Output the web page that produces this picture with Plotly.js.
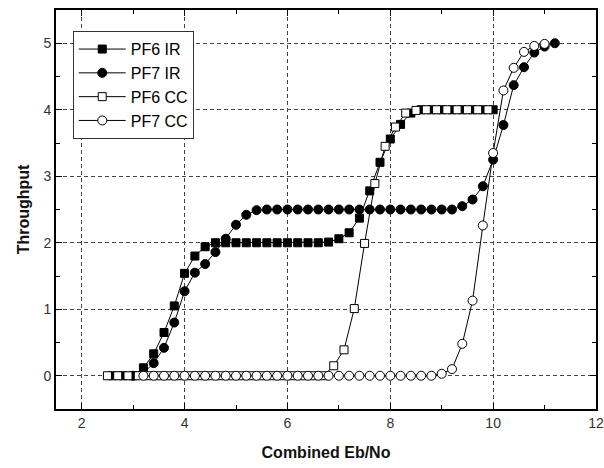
<!DOCTYPE html>
<html>
<head>
<meta charset="utf-8">
<script src="https://cdn.plot.ly/plotly-3.0.1.min.js"></script>
<style>html,body{margin:0;padding:0;background:#fff;}#chart{width:604px;height:468px;}</style>
</head>
<body>
<div id="chart"></div>
<script>
// Data
const seriesNames = ["PF6 IR", "PF7 IR", "PF6 CC", "PF7 CC"];

const pf6IrX = [2.6,2.8,3.0,3.2,3.4,3.6,3.8,4.0,4.2,4.4,4.6,4.8,5.0,5.2,5.4,5.6,5.8,6.0,6.2,6.4,6.6,6.8,7.0,7.2,7.4,7.6,7.8,8.0,8.2,8.4,8.6,8.8,9.0,9.2,9.4,9.6,9.8,10.0];
const pf6IrY = [0,0,0,0.12,0.33,0.65,1.05,1.54,1.80,1.94,2.0,2.0,2.0,2.0,2.0,2.0,2.0,2.0,2.0,2.0,2.0,2.01,2.06,2.15,2.37,2.78,3.21,3.56,3.78,3.95,4.0,4.0,4.0,4.0,4.0,4.0,4.0,4.0];

const pf7IrX = [3.0,3.2,3.4,3.6,3.8,4.0,4.2,4.4,4.6,4.8,5.0,5.2,5.4,5.6,5.8,6.0,6.2,6.4,6.6,6.8,7.0,7.2,7.4,7.6,7.8,8.0,8.2,8.4,8.6,8.8,9.0,9.2,9.4,9.6,9.8,10.0,10.2,10.4,10.6,10.8,11.0,11.2];
const pf7IrY = [0,0.04,0.19,0.42,0.80,1.27,1.55,1.68,1.86,2.06,2.27,2.42,2.49,2.5,2.5,2.5,2.5,2.5,2.5,2.5,2.5,2.5,2.5,2.5,2.5,2.5,2.5,2.5,2.5,2.5,2.5,2.5,2.55,2.65,2.85,3.25,3.77,4.37,4.64,4.86,4.95,5.0];

const pf6CcX = [2.5,2.7,2.9,3.1,3.3,3.5,3.7,3.9,4.1,4.3,4.5,4.7,4.9,5.1,5.3,5.5,5.7,5.9,6.1,6.3,6.5,6.7,6.9,7.1,7.3,7.5,7.7,7.9,8.1,8.3,8.5,8.7,8.9,9.1,9.3,9.5,9.7,9.9];
const pf6CcY = [0,0,0,0,0,0,0,0,0,0,0,0,0,0,0,0,0,0,0,0,0,0,0.15,0.39,1.01,1.99,2.89,3.45,3.74,3.95,3.99,4.0,4.0,4.0,4.0,4.0,4.0,4.0];

const pf7CcX = [3.2,3.4,3.6,3.8,4.0,4.2,4.4,4.6,4.8,5.0,5.2,5.4,5.6,5.8,6.0,6.2,6.4,6.6,6.8,7.0,7.2,7.4,7.6,7.8,8.0,8.2,8.4,8.6,8.8,9.0,9.2,9.4,9.6,9.8,10.0,10.2,10.4,10.6,10.8,11.0];
const pf7CcY = [0,0,0,0,0,0,0,0,0,0,0,0,0,0,0,0,0,0,0,0,0,0,0,0,0,0,0,0,0,0.03,0.10,0.48,1.13,2.26,3.35,4.29,4.63,4.87,4.96,4.99];

const xTickVals = [2,4,6,8,10,12];
const yTickVals = [0,1,2,3,4,5];

const lineStyle = {color: '#000', width: 1};
function trace(name, x, y, symbol, fill, size) {
  return {
    type: 'scatter', mode: 'lines+markers', name: name, x: x, y: y,
    line: lineStyle,
    marker: {symbol: symbol, size: size, color: fill, line: {color: '#000', width: 1}}
  };
}

const data = [
  trace(seriesNames[0], pf6IrX, pf6IrY, 'square', '#000', 8),
  trace(seriesNames[1], pf7IrX, pf7IrY, 'circle', '#000', 9),
  trace(seriesNames[2], pf6CcX, pf6CcY, 'square', '#fff', 8),
  trace(seriesNames[3], pf7CcX, pf7CcY, 'circle', '#fff', 9)
];

const fam = '"Liberation Sans", Arial, sans-serif';
const font = {family: fam, color: '#000'};
const axisCommon = {
  showline: true, linecolor: '#000', linewidth: 2, mirror: 'ticks',
  ticks: 'inside', ticklen: 6, tickwidth: 1, tickcolor: '#000',
  showgrid: true, gridcolor: '#444', gridwidth: 1, griddash: '4px,3px',
  zeroline: false, automargin: false, ticklabeloverflow: 'allow',
  tickfont: {family: fam, size: 14, color: '#333'}
};

const layout = {
  width: 604, height: 468,
  margin: {l: 56, r: 8, t: 10, b: 59},
  paper_bgcolor: '#fff', plot_bgcolor: '#fff',
  font: font,
  showlegend: true,
  legend: {
    x: 0.031, y: 0.947, xanchor: 'left', yanchor: 'top',
    bgcolor: '#fff', bordercolor: '#333', borderwidth: 1,
    font: {family: fam, size: 16, color: '#000'},
    itemwidth: 47,
    tracegroupgap: 0
  },
  xaxis: Object.assign({}, axisCommon, {
    range: [1.5, 12], tickvals: xTickVals,
    minor: {dtick: 1, ticks: 'inside', ticklen: 4, tickcolor: '#000', showgrid: false},
    title: {text: '<b>Combined Eb/No</b>', font: {family: fam, size: 16, color: '#111'}, standoff: 17}
  }),
  yaxis: Object.assign({}, axisCommon, {
    range: [-0.5, 5.5], tickvals: yTickVals,
    minor: {dtick: 0.5, ticks: 'inside', ticklen: 4, tickcolor: '#000', showgrid: false},
    title: {text: '<b>Throughput</b>', font: {family: fam, size: 16, color: '#111'}, standoff: 10}
  })
};

Plotly.newPlot('chart', data, layout, {displayModeBar: false, staticPlot: true});
</script>
</body>
</html>
